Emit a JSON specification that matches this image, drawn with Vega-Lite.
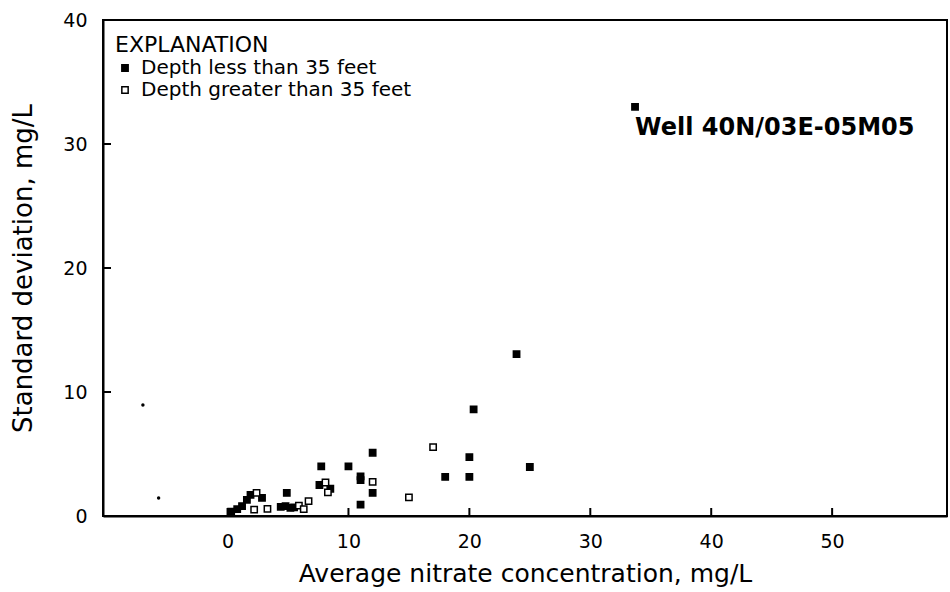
{
  "$schema": "https://vega.github.io/schema/vega-lite/v6.json",
  "width": 844,
  "height": 496,
  "padding": {"left": 103, "top": 20, "right": 3, "bottom": 76},
  "autosize": {"type": "none"},
  "background": "white",
  "config": {
    "view": {"stroke": "black", "strokeWidth": 2},
    "font": "DejaVu Sans",
    "axis": {"domainColor": "black", "domainWidth": 2, "ticks": false, "grid": false, "labelColor": "black", "titleColor": "black", "labelFont": "DejaVu Sans", "titleFont": "DejaVu Sans", "titleFontWeight": "normal"}
  },
  "datasets": {
    "points": [
      {"x": 33.7, "y": 33.0, "depth": "Depth less than 35 feet"},
      {"x": 23.9, "y": 13.05, "depth": "Depth less than 35 feet"},
      {"x": 20.35, "y": 8.6, "depth": "Depth less than 35 feet"},
      {"x": 12.0, "y": 5.1, "depth": "Depth less than 35 feet"},
      {"x": 20.0, "y": 4.75, "depth": "Depth less than 35 feet"},
      {"x": 7.75, "y": 4.0, "depth": "Depth less than 35 feet"},
      {"x": 10.0, "y": 4.0, "depth": "Depth less than 35 feet"},
      {"x": 25.0, "y": 3.95, "depth": "Depth less than 35 feet"},
      {"x": 11.0, "y": 3.2, "depth": "Depth less than 35 feet"},
      {"x": 11.0, "y": 2.9, "depth": "Depth less than 35 feet"},
      {"x": 18.0, "y": 3.15, "depth": "Depth less than 35 feet"},
      {"x": 20.0, "y": 3.15, "depth": "Depth less than 35 feet"},
      {"x": 12.0, "y": 1.86, "depth": "Depth less than 35 feet"},
      {"x": 11.0, "y": 0.92, "depth": "Depth less than 35 feet"},
      {"x": 7.6, "y": 2.5, "depth": "Depth less than 35 feet"},
      {"x": 8.5, "y": 2.2, "depth": "Depth less than 35 feet"},
      {"x": 4.9, "y": 1.86, "depth": "Depth less than 35 feet"},
      {"x": 0.3, "y": 0.35, "depth": "Depth less than 35 feet"},
      {"x": 0.8, "y": 0.55, "depth": "Depth less than 35 feet"},
      {"x": 1.2, "y": 0.8, "depth": "Depth less than 35 feet"},
      {"x": 1.6, "y": 1.3, "depth": "Depth less than 35 feet"},
      {"x": 1.9, "y": 1.7, "depth": "Depth less than 35 feet"},
      {"x": 2.85, "y": 1.46, "depth": "Depth less than 35 feet"},
      {"x": 4.4, "y": 0.74, "depth": "Depth less than 35 feet"},
      {"x": 4.8, "y": 0.8, "depth": "Depth less than 35 feet"},
      {"x": 5.2, "y": 0.66, "depth": "Depth less than 35 feet"},
      {"x": 5.5, "y": 0.7, "depth": "Depth less than 35 feet"},
      {"x": 17.0, "y": 5.56, "depth": "Depth greater than 35 feet"},
      {"x": 12.0, "y": 2.75, "depth": "Depth greater than 35 feet"},
      {"x": 15.0, "y": 1.5, "depth": "Depth greater than 35 feet"},
      {"x": 8.1, "y": 2.7, "depth": "Depth greater than 35 feet"},
      {"x": 8.3, "y": 1.9, "depth": "Depth greater than 35 feet"},
      {"x": 6.7, "y": 1.2, "depth": "Depth greater than 35 feet"},
      {"x": 5.9, "y": 0.84, "depth": "Depth greater than 35 feet"},
      {"x": 6.3, "y": 0.55, "depth": "Depth greater than 35 feet"},
      {"x": 2.4, "y": 1.86, "depth": "Depth greater than 35 feet"},
      {"x": 2.2, "y": 0.52, "depth": "Depth greater than 35 feet"},
      {"x": 3.3, "y": 0.58, "depth": "Depth greater than 35 feet"}
    ],
    "specks": [
      {"x": -7.0, "y": 8.96},
      {"x": -5.7, "y": 1.46}
    ],
    "xticks": [{"x": 0}, {"x": 10}, {"x": 20}, {"x": 30}, {"x": 40}, {"x": 50}],
    "yticks": [{"y": 10}, {"y": 20}, {"y": 30}],
    "labels": [
      {"x": 33.7, "y": 31.3, "text": "Well 40N/03E-05M05"}
    ]
  },
  "layer": [
    {
      "data": {"name": "points"},
      "mark": {"type": "point", "shape": "square", "filled": true, "stroke": "black", "strokeWidth": 1.5, "size": 40, "opacity": 1},
      "encoding": {
        "x": {"field": "x", "type": "quantitative", "scale": {"domain": [-10.3, 59.5], "nice": false, "zero": false},
          "axis": {"values": [0, 10, 20, 30, 40, 50], "title": "Average nitrate concentration, mg/L", "labelPadding": 16, "labelFontSize": 19, "titleFontSize": 25, "titlePadding": 10}},
        "y": {"field": "y", "type": "quantitative", "scale": {"domain": [0, 40], "nice": false},
          "axis": {"values": [0, 10, 20, 30, 40], "title": "Standard deviation, mg/L", "labelPadding": 16, "labelFontSize": 19, "titleFontSize": 26, "titlePadding": 26}},
        "fill": {"field": "depth", "type": "nominal",
          "scale": {"domain": ["Depth less than 35 feet", "Depth greater than 35 feet"], "range": ["black", "white"]},
          "legend": {"title": "EXPLANATION", "orient": "none", "legendX": 12, "legendY": 15, "titleFontSize": 22, "titleFontWeight": "normal", "titleColor": "black", "titleLimit": 0, "labelLimit": 0, "labelFontSize": 20, "labelColor": "black", "symbolType": "square", "symbolStrokeColor": "black", "symbolStrokeWidth": 1.5, "symbolSize": 40, "rowPadding": 2, "labelOffset": 6, "titlePadding": 1}}
      }
    },
    {
      "data": {"name": "xticks"},
      "mark": {"type": "tick", "orient": "vertical", "color": "black", "thickness": 2, "size": 16, "clip": true, "opacity": 1},
      "encoding": {
        "x": {"field": "x", "type": "quantitative"},
        "y": {"datum": 0, "type": "quantitative"}
      }
    },
    {
      "data": {"name": "yticks"},
      "mark": {"type": "tick", "orient": "horizontal", "color": "black", "thickness": 2, "size": 16, "clip": true, "opacity": 1},
      "encoding": {
        "y": {"field": "y", "type": "quantitative"},
        "x": {"datum": -10.3, "type": "quantitative"}
      }
    },
    {
      "data": {"name": "specks"},
      "mark": {"type": "circle", "color": "black", "size": 12, "opacity": 1},
      "encoding": {
        "x": {"field": "x", "type": "quantitative"},
        "y": {"field": "y", "type": "quantitative"}
      }
    },
    {
      "data": {"name": "labels"},
      "mark": {"type": "text", "align": "left", "baseline": "middle", "fontSize": 24, "fontWeight": "bold", "color": "black"},
      "encoding": {
        "x": {"field": "x", "type": "quantitative"},
        "y": {"field": "y", "type": "quantitative"},
        "text": {"field": "text"}
      }
    }
  ]
}
